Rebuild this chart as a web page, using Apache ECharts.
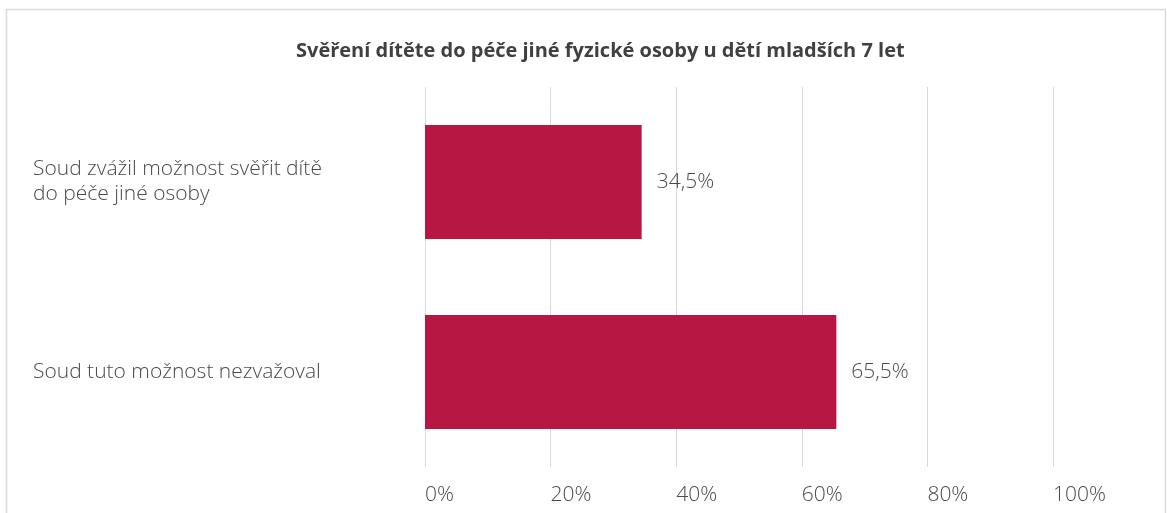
<!DOCTYPE html>
<html>
<head>
<meta charset="utf-8">
<script src="https://cdn.jsdelivr.net/npm/echarts@6/dist/echarts.min.js"></script>
<style>
  html, body { margin: 0; padding: 0; background: #fff; }
  #graf { width: 1167px; height: 513px; }
</style>
</head>
<body>
<div id="graf"></div>
<script>
// data
const kategorie = ['Soud zvážil možnost svěřit dítě\ndo péče jiné osoby', 'Soud tuto možnost nezvažoval'];
const hodnoty = [34.5, 65.5];
const nazev = 'Svěření dítěte do péče jiné fyzické osoby u dětí mladších 7 let';

const pismo = 'Open Sans';
const chart = echarts.init(document.getElementById('graf'));

chart.setOption({
    backgroundColor: '#fff',
    graphic: [{
        type: 'rect',
        shape: { x: 6.5, y: 9.5, width: 1159, height: 520 },
        style: { fill: 'none', stroke: '#d9d9d9', lineWidth: 1.5 },
        silent: true
    }],
    title: {
        text: nazev,
        left: 291,
        top: 36,
        textStyle: { fontFamily: pismo, fontWeight: 'bold', fontSize: 20, color: '#404040' }
    },
    grid: { left: 425, right: 114, top: 87, bottom: 46 },
    xAxis: {
        type: 'value',
        min: 0,
        max: 100,
        interval: 20,
        axisLine: { show: false },
        axisTick: { show: false },
        splitLine: { lineStyle: { color: '#d9d9d9', width: 1 } },
        axisLabel: {
            formatter: v => v + '%',
            margin: 18,
            fontFamily: pismo,
            fontWeight: 300,
            fontSize: 21,
            color: '#4a4a4a',
            align: 'left'
        }
    },
    yAxis: {
        type: 'category',
        inverse: true,
        data: kategorie,
        axisLine: { show: false },
        axisTick: { show: false },
        axisLabel: {
            align: 'left',
            margin: 392,
            fontFamily: pismo,
            fontWeight: 300,
            fontSize: 21,
            lineHeight: 25,
            color: '#4a4a4a'
        }
    },
    series: [{
        type: 'bar',
        data: hodnoty,
        barWidth: 114,
        itemStyle: { color: '#b71743' },
        label: {
            show: true,
            position: 'right',
            distance: 15,
            formatter: p => String(p.value).replace('.', ',') + '%',
            fontFamily: pismo,
            fontWeight: 300,
            fontSize: 21,
            color: '#4a4a4a'
        }
    }]
});

window.addEventListener('resize', () => chart.resize());
</script>
</body>
</html>
